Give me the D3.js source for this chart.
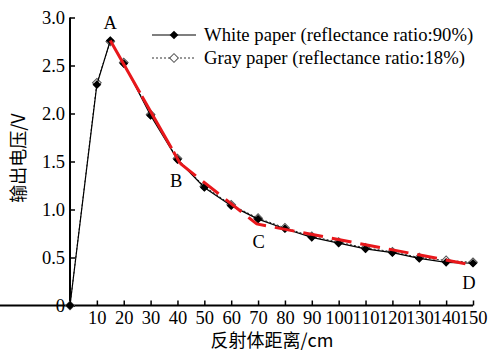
<!DOCTYPE html>
<html><head><meta charset="utf-8">
<script src="https://cdn.jsdelivr.net/npm/d3@7/dist/d3.min.js"></script>
<style>body{margin:0;background:#fff}svg{display:block}</style>
</head><body>
<svg id="c" width="491" height="353"></svg>
<script>
const distances = [0, 10, 15, 20, 30, 40, 50, 60, 70, 80, 90, 100, 110, 120, 130, 140, 150];
const whitePaper = [0, 2.30, 2.76, 2.52, 1.98, 1.52, 1.23, 1.04, 0.90, 0.80, 0.71, 0.65, 0.59, 0.55, 0.49, 0.45, 0.44];
const grayPaper  = [0, 2.32, 2.75, 2.53, 1.99, 1.53, 1.24, 1.05, 0.91, 0.81, 0.72, 0.66, 0.60, 0.56, 0.50, 0.47, 0.45];
const fitX = [15, 41, 69.5, 150];
const fitY = [2.76, 1.48, 0.85, 0.42];
const fitLabels = ["A", "B", "C", "D"];
const xTicks = [10, 20, 30, 40, 50, 60, 70, 80, 90, 100, 110, 120, 130, 140, 150];
const yTicks = [0, 0.5, 1.0, 1.5, 2.0, 2.5, 3.0];
const legendLabels = ["White paper (reflectance ratio:90%)", "Gray paper (reflectance ratio:18%)"];
const xTitle = "反射体距离/cm";
const yTitle = "输出电压/V";

const svg = d3.select("#c");
const font = "'Liberation Serif','Times New Roman',serif";
const cjk = "'Noto Sans CJK SC',sans-serif";
const x = d3.scaleLinear().domain([0, 150]).range([70, 473]);
const y = d3.scaleLinear().domain([0, 3]).range([305.5, 17.5]);

// axes
const xa = svg.append("g").attr("transform", `translate(0,${y(0)})`)
  .call(d3.axisBottom(x).tickValues(xTicks).tickSizeInner(-5).tickSizeOuter(0).tickPadding(5).tickFormat(d3.format("d")));
const ya = svg.append("g").attr("transform", `translate(${x(0)},0)`)
  .call(d3.axisLeft(y).tickValues(yTicks).tickSizeInner(-5).tickSizeOuter(0).tickPadding(5)
    .tickFormat(d => d === 0 ? "0" : d.toFixed(1)));
[xa, ya].forEach(g => {
  g.select(".domain").attr("stroke", "#000").attr("stroke-width", 2);
  g.selectAll(".tick line").attr("stroke", "#000").attr("stroke-width", 1.5);
  g.selectAll(".tick text").attr("fill", "#000").style("font-family", font).style("font-size", "18.5px");
});
ya.selectAll(".tick text").attr("dy", "0.35em");
ya.select(".domain").attr("d", `M0,${y(0)}V${y(3)}`);
xa.select(".domain").attr("d", `M0,0H${x(150)}`);

// titles
svg.append("text").attr("x", 272).attr("y", 347).attr("text-anchor", "middle")
  .style("font-family", cjk).style("font-size", "18px").text(xTitle);
svg.append("text").attr("transform", "translate(25,158) rotate(-90)").attr("text-anchor", "middle")
  .style("font-family", cjk).style("font-size", "18px").text(yTitle);

const line = d3.line().x((d, i) => x(distances[i])).y(d => y(d));
const diamond = d3.symbol().type(d3.symbolSquare).size(38);

// gray series
svg.append("path").datum(grayPaper).attr("d", line).attr("fill", "none")
  .attr("stroke", "#333").attr("stroke-width", 1).attr("stroke-dasharray", "2,2");
svg.selectAll(".gp").data(grayPaper).enter().append("path")
  .attr("transform", (d, i) => `translate(${x(distances[i])},${y(d)}) rotate(45)`)
  .attr("d", diamond).attr("fill", "#fff").attr("stroke", "#555").attr("stroke-width", 1);

// white series
svg.append("path").datum(whitePaper).attr("d", line).attr("fill", "none")
  .attr("stroke", "#000").attr("stroke-width", 1.2);
svg.selectAll(".wp").data(whitePaper).enter().append("path")
  .attr("transform", (d, i) => `translate(${x(distances[i])},${y(d)}) rotate(45)`)
  .attr("d", diamond).attr("fill", "#000");

// red fit line
svg.append("path").datum(fitY.slice(0, 2)).attr("d", d3.line().x((d, i) => x(fitX[i])).y(d => y(d)))
  .attr("fill", "none").attr("stroke", "#e8171b").attr("stroke-width", 3).attr("stroke-dasharray", "60,4");
svg.append("path").datum(fitY.slice(1)).attr("d", d3.line().x((d, i) => x(fitX[i + 1])).y(d => y(d)))
  .attr("fill", "none").attr("stroke", "#e8171b").attr("stroke-width", 3).attr("stroke-dasharray", "20,9");

// point labels
const lblOff = [[0, -12], [-4, 24], [2, 24], [-4, 24]];
svg.selectAll(".pl").data(fitLabels).enter().append("text")
  .attr("x", (d, i) => x(fitX[i]) + lblOff[i][0]).attr("y", (d, i) => y(fitY[i]) + lblOff[i][1])
  .attr("text-anchor", "middle").style("font-family", font).style("font-size", "18.5px").text(d => d);

// legend
const lg = svg.append("g");
[0, 1].forEach(i => {
  const ly = 35 + i * 23;
  lg.append("line").attr("x1", 152).attr("x2", 196).attr("y1", ly).attr("y2", ly)
    .attr("stroke", i ? "#333" : "#000").attr("stroke-width", i ? 1 : 1.2).attr("stroke-dasharray", i ? "2,2" : null);
  lg.append("path").attr("transform", `translate(174,${ly}) rotate(45)`).attr("d", diamond)
    .attr("fill", i ? "#fff" : "#000").attr("stroke", i ? "#555" : "none");
  lg.append("text").attr("x", 204).attr("y", ly + 6).style("font-family", font).style("font-size", "18.7px")
    .text(legendLabels[i]);
});
</script>
</body></html>
